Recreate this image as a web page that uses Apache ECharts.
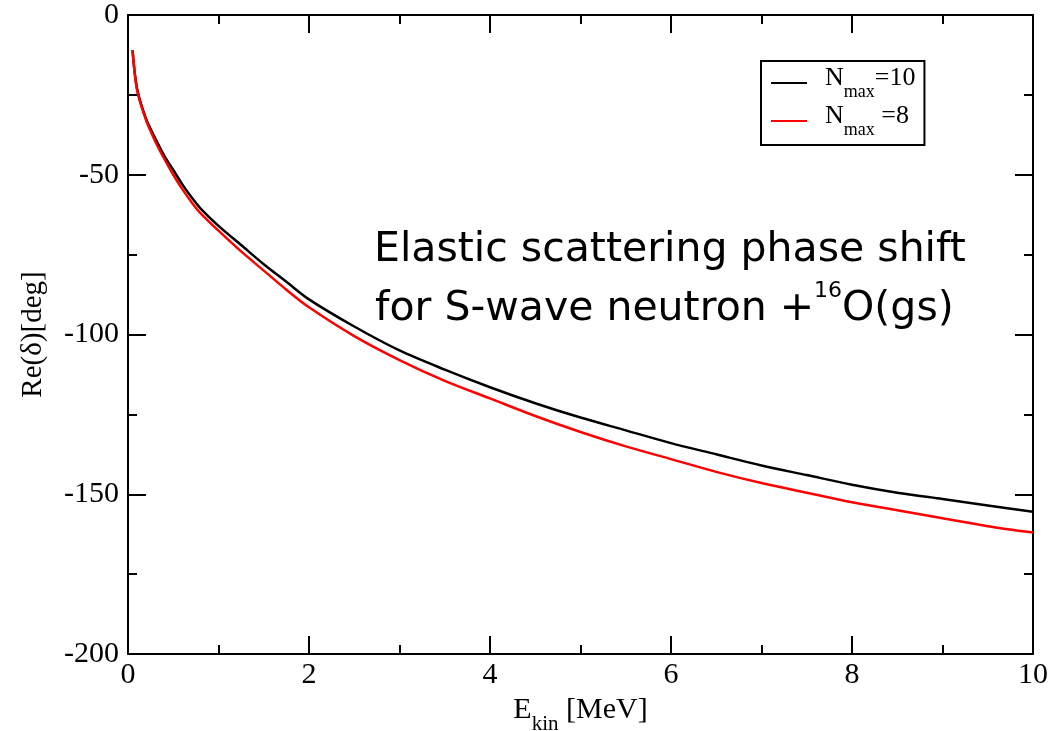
<!DOCTYPE html>
<html>
<head>
<meta charset="utf-8">
<script src="https://cdn.jsdelivr.net/npm/echarts@6/dist/echarts.min.js"></script>
<style>html,body{margin:0;padding:0;background:#fff}#c{width:1059px;height:731px}</style>
</head>
<body>
<div id="c"></div>
<script>
const energies = [0.05, 0.1, 0.2, 0.3, 0.4, 0.5, 0.6, 0.7, 0.8, 1.0, 1.25, 1.5, 1.75, 2.0, 2.5, 3, 3.5, 4, 4.5, 5, 5.5, 6, 6.5, 7, 7.5, 8, 8.5, 9, 9.5, 10];
const nmax10 = [-11, -23, -32.5, -38.5, -44, -48.5, -53, -57, -60.5, -66, -72, -78, -83.5, -89, -97.5, -105, -111, -116.5, -121.5, -126, -130, -134, -137.5, -141, -144, -147, -149.5, -151.5, -153.5, -155.5];
const nmax8 = [-11, -23.5, -33, -39.5, -45, -50, -54.5, -58.5, -62, -67.5, -74, -80, -86, -91.5, -100.5, -108, -114.5, -120, -125.5, -130.5, -135, -139, -143, -146.5, -149.5, -152.5, -155, -157.5, -160, -162];
const seriesNames = ['Nmax=10', 'Nmax=8'];
const xTicks = {min: 0, max: 10, interval: 2};
const yTicks = {min: -200, max: 0, interval: 50};

const pair = (xs, ys) => xs.map((x, i) => [x, ys[i]]);
const serif = 'Liberation Serif';
const axisCommon = {
  axisLine: {onZero: false, lineStyle: {color: '#000', width: 2}},
  axisTick: {inside: true, length: 18, lineStyle: {color: '#000', width: 2}},
  minorTick: {show: true, splitNumber: 2, length: 9, lineStyle: {color: '#000', width: 2}},
  splitLine: {show: false},
  axisLabel: {fontFamily: serif, fontSize: 30, color: '#000'}
};

const chart = echarts.init(document.getElementById('c'));
chart.setOption({
  animation: false,
  backgroundColor: '#fff',
  grid: {left: 128, right: 26, top: 15, bottom: 77, outerBoundsMode: 'none', containLabel: false},
  legend: {
    orient: 'vertical', left: 761, top: 61,
    data: seriesNames,
    icon: 'rect', itemWidth: 36, itemHeight: 2, itemGap: 2,
    borderColor: '#000', borderWidth: 2, padding: [4, 9, 6, 10],
    formatter: function (n) {
      return n === 'Nmax=10' ? '{p|}{a|N}{b|max}{a|=10}' : '{p|}{a|N}{b|max}{a| =8}';
    },
    textStyle: {
      color: '#000',
      rich: {
        p: {width: 13, lineHeight: 36},
        a: {fontFamily: serif, fontSize: 26, color: '#000', lineHeight: 26, verticalAlign: 'top'},
        b: {fontFamily: serif, fontSize: 18, color: '#000', lineHeight: 20, verticalAlign: 'bottom'}
      }
    }
  },
  xAxis: [
    Object.assign({}, axisCommon, {
      type: 'value', min: xTicks.min, max: xTicks.max, interval: xTicks.interval,
      name: '{p|}{a|E}{b|kin}{a| [MeV]}', nameLocation: 'middle', nameGap: 30,
      nameTextStyle: {
        rich: {
          p: {width: 0, lineHeight: 40},
          a: {fontFamily: serif, fontSize: 30, color: '#000', lineHeight: 30, verticalAlign: 'top'},
          b: {fontFamily: serif, fontSize: 21, color: '#000', lineHeight: 22, verticalAlign: 'bottom'}
        }
      },
      axisLabel: {fontFamily: serif, fontSize: 30, color: '#000', margin: 6}
    }),
    Object.assign({}, axisCommon, {
      type: 'value', position: 'top', min: xTicks.min, max: xTicks.max, interval: xTicks.interval,
      axisLabel: {show: false}
    })
  ],
  yAxis: [
    Object.assign({}, axisCommon, {
      type: 'value', min: yTicks.min, max: yTicks.max, interval: yTicks.interval,
      name: 'Re(δ)[deg]', nameLocation: 'middle', nameGap: 80,
      nameTextStyle: {fontFamily: serif, fontSize: 29, color: '#000'},
      axisLabel: {fontFamily: serif, fontSize: 30, color: '#000', margin: 9}
    }),
    Object.assign({}, axisCommon, {
      type: 'value', position: 'right', min: yTicks.min, max: yTicks.max, interval: yTicks.interval,
      axisLabel: {show: false}
    })
  ],
  series: [
    {name: seriesNames[0], type: 'line', data: pair(energies, nmax10), showSymbol: false, smooth: 0.3,
     lineStyle: {color: '#000', width: 2.5}, itemStyle: {color: '#000'}},
    {name: seriesNames[1], type: 'line', data: pair(energies, nmax8), showSymbol: false, smooth: 0.3,
     lineStyle: {color: '#ff0000', width: 2.5}, itemStyle: {color: '#ff0000'}}
  ],
  graphic: [
    {type: 'text', left: 374, top: 230, z: 100,
     style: {text: 'Elastic scattering phase shift', fontFamily: 'DejaVu Sans', fontSize: 41, fill: '#000'}},
    {type: 'text', left: 375, top: 280, z: 100,
     style: {text: '{a|for S-wave neutron +}{s|16}{a|O(gs)}', fill: '#000',
       rich: {
         a: {fontFamily: 'DejaVu Sans', fontSize: 41, fill: '#000', lineHeight: 50, verticalAlign: 'bottom'},
         s: {fontFamily: 'DejaVu Sans', fontSize: 22, fill: '#000', lineHeight: 50, verticalAlign: 'top'}
       }}}
  ]
});
</script>
</body>
</html>
